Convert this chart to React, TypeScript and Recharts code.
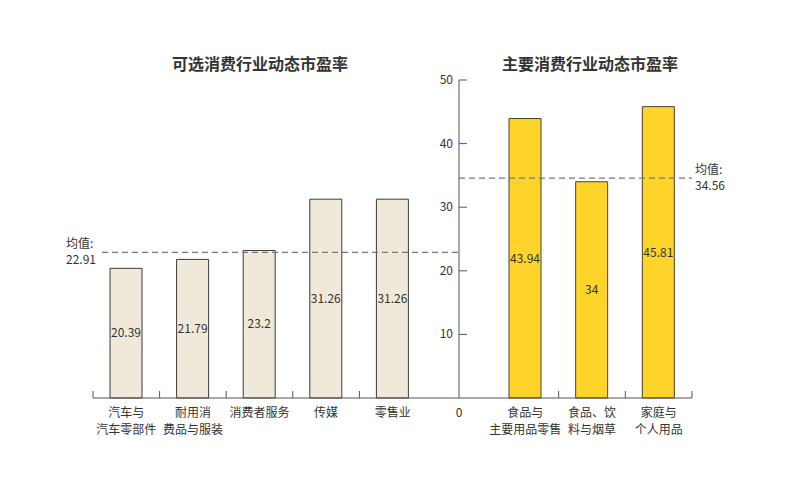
import React from 'react';
import { BarChart, Bar, XAxis, YAxis, ReferenceLine, LabelList } from 'recharts';

// 可选消费
const leftCategories = ['汽车与\n汽车零部件', '耐用消\n费品与服装', '消费者服务', '传媒', '零售业'];
const leftValues = [20.39, 21.79, 23.2, 31.26, 31.26];
const leftMean = 22.91;

// 主要消费
const rightCategories = ['食品与\n主要用品零售', '食品、饮\n料与烟草', '家庭与\n个人用品'];
const rightValues = [43.94, 34, 45.81];
const rightMean = 34.56;

const yTicks = [0, 10, 20, 30, 40, 50];

const leftData = leftCategories.map((name, i) => ({ name, value: leftValues[i] }));
const rightData = rightCategories.map((name, i) => ({ name, value: rightValues[i] }));

const FONT = '"Noto Sans CJK SC", "Noto Sans", sans-serif';
const TEXT = '#333';
const AXIS = '#555';
const HALF_BAND = 33.3;

const CatTick = ({ x, y, payload, side }: any) => {
  const lines = String(payload.value).split('\n');
  const tx = side === 'left' ? x - HALF_BAND : x + HALF_BAND;
  return (
    <g>
      <line x1={tx} x2={tx} y1={y - 7} y2={y} stroke={AXIS} strokeWidth={1} />
      {lines.map((l, i) => (
        <text key={i} x={x} y={y + 19 + i * 17} textAnchor="middle" fontSize={12} fill={TEXT} fontFamily={FONT}>
          {l}
        </text>
      ))}
    </g>
  );
};

const YTick = ({ x, y, payload }: any) => {
  if (payload.value === 0) {
    return (
      <text x={x} y={y + 19} textAnchor="middle" fontSize={12} fill={TEXT} fontFamily={FONT}>0</text>
    );
  }
  return (
    <g>
      <line x1={x} x2={x + 8} y1={y} y2={y} stroke={AXIS} strokeWidth={1} />
      <text x={x - 6} y={y + 4} textAnchor="end" fontSize={12} fill={TEXT} fontFamily={FONT}>{payload.value}</text>
    </g>
  );
};

const MeanLine = ({ x1, x2, y1, startOffset }: any) => (
  <line x1={x1 + (startOffset || 0)} x2={x2} y1={y1} y2={y1} stroke="#777" strokeWidth={1.3} strokeDasharray="6 4" />
);

const MeanLabel = ({ viewBox, value, side }: any) => {
  const { x, y, width } = viewBox;
  const lx = side === 'left' ? x - 27 : x + width + 3;
  return (
    <g fontFamily={FONT} fontSize={12} fill={TEXT}>
      <text x={lx} y={y - 4}>均值:</text>
      <text x={lx} y={y + 12}>{value}</text>
    </g>
  );
};

const titleStyle: React.CSSProperties = {
  position: 'absolute',
  top: 51,
  fontFamily: FONT,
  fontSize: 16,
  fontWeight: 700,
  color: TEXT,
  textAlign: 'center',
  width: 240,
};

export default function App() {
  return (
    <div style={{ position: 'absolute', left: 0, top: 0, width: 800, height: 480, background: '#fff' }}>
      <div style={{ ...titleStyle, left: 140 }}>可选消费行业动态市盈率</div>
      <div style={{ ...titleStyle, left: 470 }}>主要消费行业动态市盈率</div>

      <div style={{ position: 'absolute', left: 0, top: 0 }}>
        <BarChart width={470} height={480} data={leftData} margin={{ top: 80, right: 11, bottom: 32, left: 93 }}>
          <XAxis
            dataKey="name"
            height={50}
            padding={{ left: 0, right: 33 }}
            tickLine={false}
            tickSize={0}
            tickMargin={0}
            interval={0}
            axisLine={{ stroke: AXIS }}
            tick={<CatTick side="left" />}
          />
          <YAxis hide domain={[0, 50]} ticks={yTicks} />
          <ReferenceLine
            y={leftMean}
            shape={<MeanLine startOffset={9} />}
            label={<MeanLabel value={leftMean} side="left" />}
          />
          <Bar dataKey="value" barSize={32} fill="#F0E9DA" stroke="#3b3b3b" strokeWidth={1} isAnimationActive={false}>
            <LabelList dataKey="value" position="center" fontSize={12} fill={TEXT} fontFamily={FONT} />
          </Bar>
        </BarChart>
      </div>

      <div style={{ position: 'absolute', left: 380, top: 0 }}>
        <BarChart width={420} height={480} data={rightData} margin={{ top: 80, right: 108, bottom: 32, left: 0 }}>
          <XAxis
            dataKey="name"
            height={50}
            padding={{ left: 33, right: 0 }}
            tickLine={false}
            tickSize={0}
            tickMargin={0}
            interval={0}
            axisLine={{ stroke: AXIS }}
            tick={<CatTick side="right" />}
          />
          <YAxis
            width={79}
            domain={[0, 50]}
            ticks={yTicks}
            interval={0}
            tickLine={false}
            tickSize={0}
            tickMargin={0}
            axisLine={{ stroke: AXIS }}
            tick={<YTick />}
          />
          <ReferenceLine
            y={rightMean}
            shape={<MeanLine />}
            label={<MeanLabel value={rightMean} side="right" />}
          />
          <Bar dataKey="value" barSize={32} fill="#FFD42A" stroke="#4a3f2a" strokeWidth={1} isAnimationActive={false}>
            <LabelList dataKey="value" position="center" fontSize={12} fill={TEXT} fontFamily={FONT} />
          </Bar>
        </BarChart>
      </div>
    </div>
  );
}
